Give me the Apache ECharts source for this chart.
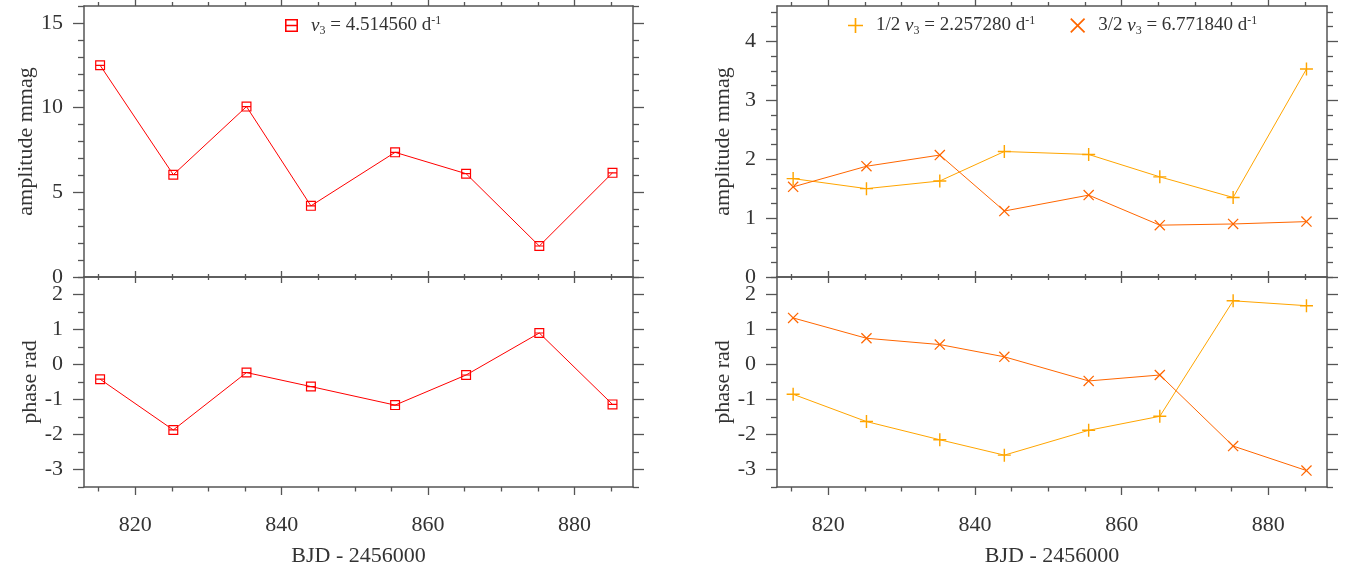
<!DOCTYPE html>
<html>
<head>
<meta charset="utf-8">
<script src="https://cdn.jsdelivr.net/npm/echarts@6/dist/echarts.min.js"></script>
<style>
html,body{margin:0;padding:0;background:#fff}
#chart{width:1346px;height:570px}
</style>
</head>
<body>
<div id="chart"></div>
<script>
// data
var bjd = [815.2, 825.2, 835.2, 844.0, 855.5, 865.2, 875.2, 885.2];
var ampNu3 = [12.5, 6.04, 10.06, 4.2, 7.36, 6.1, 1.83, 6.15];
var phaseNu3 = [-0.42, -1.87, -0.23, -0.63, -1.16, -0.30, 0.90, -1.14];
var ampHalf = [1.67, 1.50, 1.63, 2.13, 2.08, 1.70, 1.35, 3.53];
var ampThreeHalf = [1.53, 1.88, 2.07, 1.12, 1.39, 0.88, 0.90, 0.94];
var phaseHalf = [-0.85, -1.63, -2.15, -2.59, -1.88, -1.48, 1.82, 1.68];
var phaseThreeHalf = [1.33, 0.75, 0.57, 0.22, -0.47, -0.30, -2.33, -3.03];

// tick values
var xTicks = [820, 840, 860, 880];
var xMinor = [815, 825, 830, 835, 845, 850, 855, 865, 870, 875, 885];
var ampTicksL = [0, 5, 10, 15];
var ampMinorL = [1, 2, 3, 4, 6, 7, 8, 9, 11, 12, 13, 14, 16];
var ampTicksR = [0, 1, 2, 3, 4];
var ampMinorR = [0.25, 0.5, 0.75, 1.25, 1.5, 1.75, 2.25, 2.5, 2.75, 3.25, 3.5, 3.75, 4.25, 4.5];
var phaseTicks = [-3, -2, -1, 0, 1, 2];
var phaseMinor = [-3.5, -2.5, -1.5, -0.5, 0.5, 1.5, 2.5];

var nameNu3 = 'nu3';
var nameHalf = 'half';
var nameThreeHalf = 'threeHalf';
var legendText = {
    nu3: '{sp| }{nu|ν}{sub|3} = 4.514560 d{sup|-1}',
    half: '{sp| }1/2 {nu|ν}{sub|3} = 2.257280 d{sup|-1}',
    threeHalf: '{sp| }3/2 {nu|ν}{sub|3} = 6.771840 d{sup|-1}'
};

var FONT = 'Liberation Serif';
var AXIS_COLOR = '#555';
var TEXT_COLOR = '#333';
var RED = '#ff0000', ORANGE = '#ffa500', DORANGE = '#ff6600';

var squareSym = 'path://M0,0H10V10H0Z M1.2,1.2V8.8H8.8V1.2Z M1.2,4.4H8.8V5.6H1.2Z';
var plusSym = 'path://M4.45,0H5.55V10H4.45Z M0,4.45H10V5.55H0Z';
var crossSym = 'path://M0.8,0L10,9.2L9.2,10L0,0.8Z M9.2,0L10,0.8L0.8,10L0,9.2Z';

var grids = [
    {left: 84, width: 549, top: 6, height: 271},
    {left: 84, width: 549, top: 277, height: 210},
    {left: 777, width: 550, top: 6, height: 271},
    {left: 777, width: 550, top: 277, height: 210}
];

var xAxes = [], yAxes = [];

function tickAxis(base, values, len, showLine) {
    var ax = Object.assign({
        type: 'value',
        splitLine: {show: false},
        axisLine: {show: showLine, onZero: false, lineStyle: {color: AXIS_COLOR, width: 1.5}},
        axisTick: {show: true, inside: false, length: len, customValues: values,
            lineStyle: {color: AXIS_COLOR, width: 1.3}},
        axisLabel: {show: false}
    }, base);
    return ax;
}

// x axes: bottom major/minor, top major/minor for every grid
function addX(g, isBottom) {
    var base = {gridIndex: g, min: 813, max: 888};
    var bm = tickAxis(Object.assign({position: 'bottom'}, base), xTicks, isBottom ? 8 : 6, true);
    if (isBottom) {
        bm.axisLabel = {show: true, customValues: xTicks, margin: 27, fontSize: 22,
            fontFamily: FONT, color: TEXT_COLOR};
        bm.name = 'BJD - 2456000';
        bm.nameLocation = 'middle';
        bm.nameGap = 58;
        bm.nameTextStyle = {fontSize: 22, fontFamily: FONT, color: TEXT_COLOR};
    }
    var idx = xAxes.length;
    xAxes.push(bm);
    xAxes.push(tickAxis(Object.assign({position: 'bottom'}, base), xMinor, isBottom ? 4.5 : 3, false));
    xAxes.push(tickAxis(Object.assign({position: 'top'}, base), xTicks, 6, true));
    xAxes.push(tickAxis(Object.assign({position: 'top'}, base), xMinor, isBottom ? 3 : 4, false));
    return idx;
}

function addY(g, min, max, ticks, minor, name) {
    var base = {gridIndex: g, min: min, max: max};
    var lm = tickAxis(Object.assign({position: 'left'}, base), ticks, 11, true);
    lm.axisLabel = {show: true, customValues: ticks, margin: 21, fontSize: 22,
        fontFamily: FONT, color: TEXT_COLOR};
    lm.name = name;
    lm.nameLocation = 'middle';
    lm.nameGap = 43;
    lm.nameTextStyle = {fontSize: 22, fontFamily: FONT, color: TEXT_COLOR};
    var idx = yAxes.length;
    yAxes.push(lm);
    yAxes.push(tickAxis(Object.assign({position: 'left'}, base), minor, 6, false));
    yAxes.push(tickAxis(Object.assign({position: 'right'}, base), ticks, 11, true));
    yAxes.push(tickAxis(Object.assign({position: 'right'}, base), minor, 6, false));
    return idx;
}

var xi0 = addX(0, false), yi0 = addY(0, 0, 16, ampTicksL, ampMinorL, 'amplitude mmag');
var xi1 = addX(1, true), yi1 = addY(1, -3.5, 2.5, phaseTicks, phaseMinor, 'phase rad');
var xi2 = addX(2, false), yi2 = addY(2, 0, 4.6, ampTicksR, ampMinorR, 'amplitude mmag');
var xi3 = addX(3, true), yi3 = addY(3, -3.5, 2.5, phaseTicks, phaseMinor, 'phase rad');

function zip(xs, ys) {
    return xs.map(function (x, i) { return [x, ys[i]]; });
}

function line(name, xi, yi, vals, color, sym, size) {
    return {
        name: name,
        type: 'line',
        xAxisIndex: xi,
        yAxisIndex: yi,
        data: zip(bjd, vals),
        symbol: sym,
        symbolSize: size,
        showAllSymbol: true,
        itemStyle: {color: color},
        lineStyle: {color: color, width: 1},
        emphasis: {disabled: true},
        z: 3
    };
}

var rich = {
    sp: {width: 8, fontSize: 19},
    nu: {fontStyle: 'italic', fontSize: 19, fontFamily: FONT, color: TEXT_COLOR},
    sub: {fontSize: 12, fontFamily: FONT, color: TEXT_COLOR, padding: [10, 0, 0, 0]},
    sup: {fontSize: 12, fontFamily: FONT, color: TEXT_COLOR, padding: [0, 0, 9, 0]}
};

var myChart = echarts.init(document.getElementById('chart'));
var option = {
    animation: false,
    backgroundColor: '#fff',
    grid: grids,
    xAxis: xAxes,
    yAxis: yAxes,
    legend: [
        {
            data: [{name: nameNu3, icon: squareSym}],
            left: 280, top: 10,
            itemWidth: 13, itemHeight: 13,
            selectedMode: false,
            formatter: function (n) { return legendText[n]; },
            textStyle: {fontSize: 19, fontFamily: FONT, color: TEXT_COLOR, rich: rich}
        },
        {
            data: [{name: nameHalf, icon: plusSym}, {name: nameThreeHalf, icon: crossSym}],
            left: 843, top: 10,
            itemWidth: 15, itemHeight: 15,
            itemGap: 35,
            selectedMode: false,
            formatter: function (n) { return legendText[n]; },
            textStyle: {fontSize: 19, fontFamily: FONT, color: TEXT_COLOR, rich: rich}
        }
    ],
    series: [
        line(nameNu3, xi0, yi0, ampNu3, RED, squareSym, 10),
        line(nameNu3, xi1, yi1, phaseNu3, RED, squareSym, 10),
        line(nameHalf, xi2, yi2, ampHalf, ORANGE, plusSym, 13),
        line(nameThreeHalf, xi2, yi2, ampThreeHalf, DORANGE, crossSym, 11),
        line(nameHalf, xi3, yi3, phaseHalf, ORANGE, plusSym, 13),
        line(nameThreeHalf, xi3, yi3, phaseThreeHalf, DORANGE, crossSym, 11)
    ]
};
myChart.setOption(option);
</script>
</body>
</html>
